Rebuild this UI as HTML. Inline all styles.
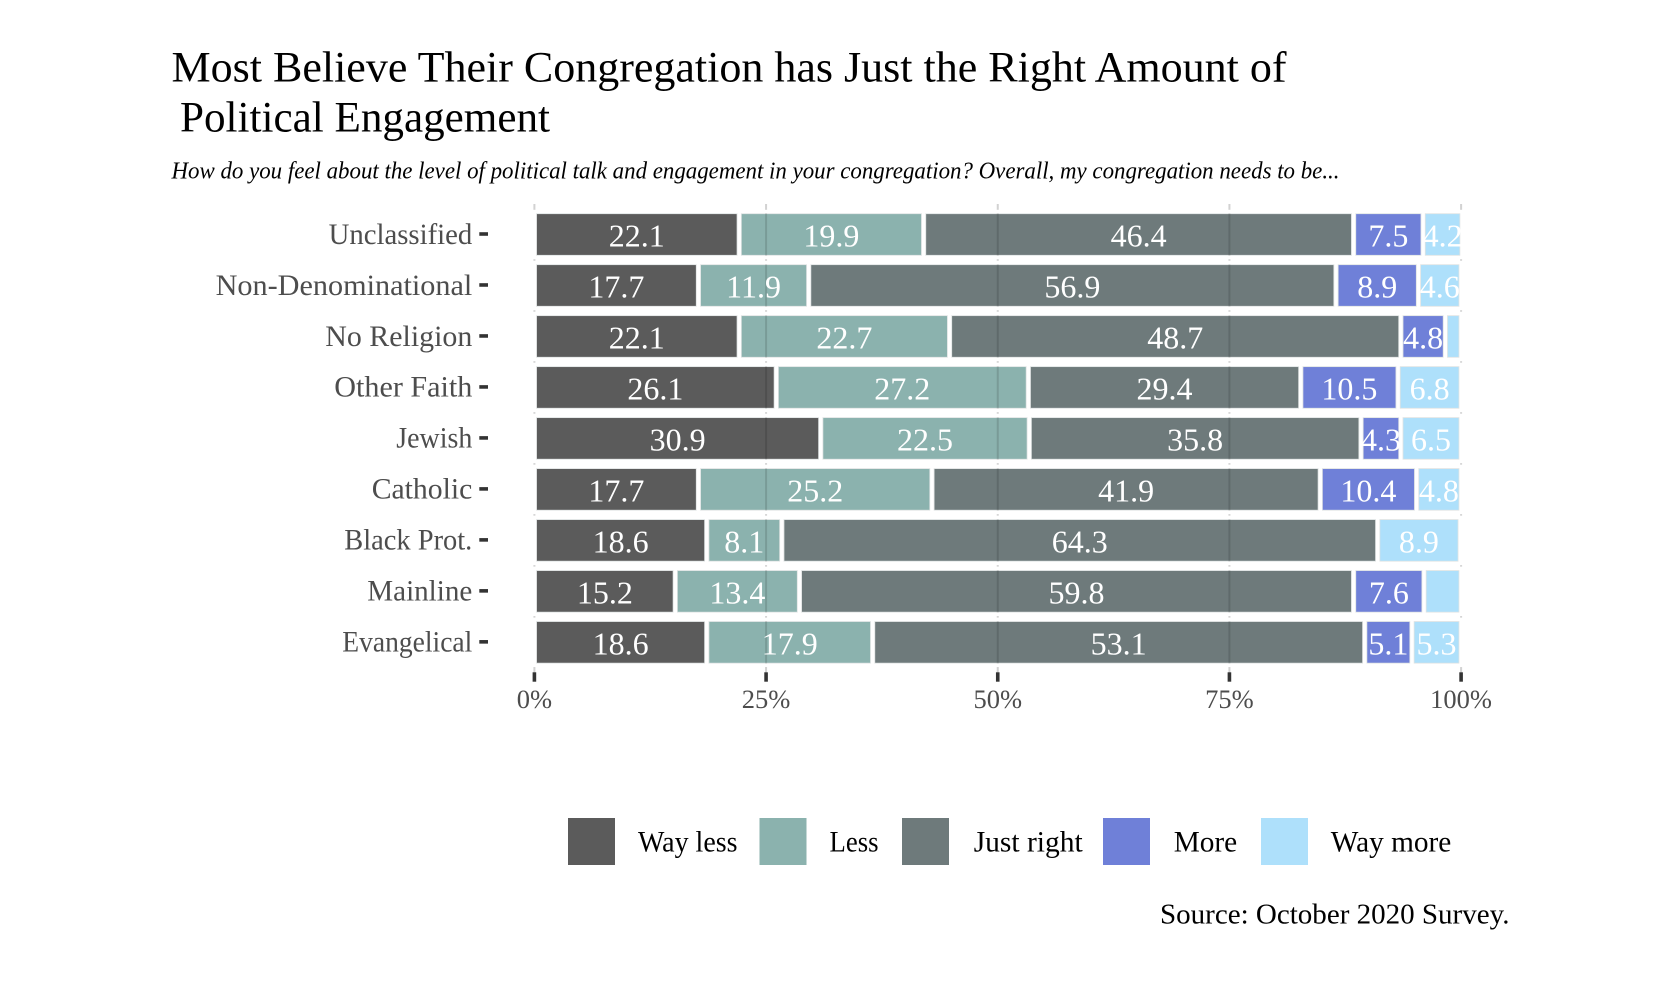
<!DOCTYPE html>
<html>
<head>
<meta charset="utf-8">
<title>Most Believe Their Congregation has Just the Right Amount of Political Engagement</title>
<style>
html,body{margin:0;padding:0;background:#fff;}
svg{display:block;font-family:"Liberation Serif",serif;filter:blur(0.35px);}
</style>
</head>
<body>
<svg id="chart" width="1670" height="992" viewBox="0 0 1670 992" xmlns="http://www.w3.org/2000/svg">
  <rect x="0" y="0" width="1670" height="992" fill="#ffffff"/>
  <text x="171.5" y="81.7" font-size="43.5" fill="#000" textLength="1115" lengthAdjust="spacingAndGlyphs">Most Believe Their Congregation has Just the Right Amount of</text>
  <text x="180" y="131.7" font-size="43.5" fill="#000" textLength="370" lengthAdjust="spacingAndGlyphs">Political Engagement</text>
  <text x="171.5" y="178.3" font-size="24.5" font-style="italic" fill="#000" textLength="1168" lengthAdjust="spacingAndGlyphs">How do you feel about the level of political talk and engagement in your congregation? Overall, my congregation needs to be...</text>
  <g id="plot"></g>
  <g>
    <g>
      <rect x="568" y="818" width="47" height="47" fill="#5b5b5b"/>
      <text x="638" y="851.7" font-size="30" fill="#000" textLength="99.5" lengthAdjust="spacingAndGlyphs">Way less</text>
    </g>
    <g>
      <rect x="759.5" y="818" width="47" height="47" fill="#8bb2ae"/>
      <text x="829.5" y="851.7" font-size="30" fill="#000" textLength="49" lengthAdjust="spacingAndGlyphs">Less</text>
    </g>
    <g>
      <rect x="902" y="818" width="47" height="47" fill="#6e7a7b"/>
      <text x="973.7" y="851.7" font-size="30" fill="#000" textLength="109" lengthAdjust="spacingAndGlyphs">Just right</text>
    </g>
    <g>
      <rect x="1103" y="818" width="47" height="47" fill="#6f80d8"/>
      <text x="1173.7" y="851.7" font-size="30" fill="#000" textLength="63.5" lengthAdjust="spacingAndGlyphs">More</text>
    </g>
    <g>
      <rect x="1261" y="818" width="47" height="47" fill="#aee0fb"/>
      <text x="1330.8" y="851.7" font-size="30" fill="#000" textLength="120.5" lengthAdjust="spacingAndGlyphs">Way more</text>
    </g>
  </g>
  <text x="1160" y="923.3" font-size="29" fill="#000" textLength="349.5" lengthAdjust="spacingAndGlyphs">Source: October 2020 Survey.</text>
</svg>
<script>
// ---- chart data (top row first) ----
const categories = ["Unclassified", "Non-Denominational", "No Religion", "Other Faith", "Jewish", "Catholic", "Black Prot.", "Mainline", "Evangelical"];
const wayLess   = [22.1, 17.7, 22.1, 26.1, 30.9, 17.7, 18.6, 15.2, 18.6];
const less      = [19.9, 11.9, 22.7, 27.2, 22.5, 25.2, 8.1, 13.4, 17.9];
const justRight = [46.4, 56.9, 48.7, 29.4, 35.8, 41.9, 64.3, 59.8, 53.1];
const more      = [7.5, 8.9, 4.8, 10.5, 4.3, 10.4, 0, 7.6, 5.1];
const wayMore   = [4.2, 4.6, 1.7, 6.8, 6.5, 4.8, 8.9, 4.0, 5.3];
const xTicks = [0, 25, 50, 75, 100];
const xTickLabels = ["0%", "25%", "50%", "75%", "100%"];
const seriesNames = ["way-less", "less", "just-right", "more", "way-more"];

const SVG_NS = "http://www.w3.org/2000/svg";
const plot = document.getElementById("plot");
const seriesValues = [wayLess, less, justRight, more, wayMore];
const seriesColors = ["#5b5b5b", "#8bb2ae", "#6e7a7b", "#6f80d8", "#aee0fb"];
const yLabelWidths = [143.7, 256.7, 147, 138, 76, 100.6, 128, 105, 130];

// axis functions
function xScale(v) { return 534.4 + v * 9.267; }
function yScale(i) { return 234.5 + i * 50.98; }
const BAR_HALF = 21.2;
const GAP_HALF = 1.75;
const HALO = 3.5;
const LABEL_MIN = 4.0;

function make(tag, attrs, parent) {
  const el = document.createElementNS(SVG_NS, tag);
  for (const k in attrs) el.setAttribute(k, attrs[k]);
  parent.appendChild(el);
  return el;
}

const panelTop = 204;
const panelBottom = yScale(categories.length - 1) + BAR_HALF + 9;

// light vertical gridlines behind the bars
xTicks.forEach(function (t) {
  const line = make("line", { x1: xScale(t), x2: xScale(t), y1: panelTop, y2: panelBottom, stroke: "#d2d2d2", "stroke-width": 2 }, plot);
  
  
});

// stacked bars
const labelQueue = [];
categories.forEach(function (cat, i) {
  let cum = 0;
  const cy = yScale(i);
  let rowTotal = 0;
  seriesValues.forEach(function (vals) { rowTotal += vals[i]; });
  const halo = make("rect", { x: xScale(0) - 2.5, y: cy - BAR_HALF - HALO, width: xScale(rowTotal) - xScale(0) + 5, height: 2 * (BAR_HALF + HALO), fill: "#ffffff" }, plot);
  
  
  seriesValues.forEach(function (vals, s) {
    const v = vals[i];
    const x0 = xScale(cum);
    const x1 = xScale(cum + v);
    cum += v;
    if (v <= 0) return;
    const bar = make("rect", { x: x0 + GAP_HALF + 0.4, y: cy - BAR_HALF + 0.4, width: Math.max(0, x1 - x0 - 2 * GAP_HALF - 0.8), height: 2 * BAR_HALF - 0.8, fill: seriesColors[s], stroke: "#dfe3e3", "stroke-width": 0.8 }, plot);
    
    
    if (v > LABEL_MIN) labelQueue.push({ x: (x0 + x1) / 2, y: cy + 12, text: v.toFixed(1) });
  });
  // gridline showing through the translucent bars
  xTicks.forEach(function (t) {
    if (t <= 0 || t >= 100) return;
    const shade = make("line", { x1: xScale(t), x2: xScale(t), y1: cy - BAR_HALF, y2: cy + BAR_HALF, stroke: "#000", "stroke-opacity": 0.13, "stroke-width": 2 }, plot);
    
    
  });
});

// value labels
labelQueue.forEach(function (d) {
  const t = make("text", { x: d.x, y: d.y, "text-anchor": "middle", "font-size": 32, fill: "#ffffff" }, plot);
  
  
  t.textContent = d.text;
});

// y axis
categories.forEach(function (cat, i) {
  const cy = yScale(i);
  const tick = make("line", { x1: 479.3, x2: 488, y1: cy - 0.5, y2: cy - 0.5, stroke: "#333333", "stroke-width": 3.6 }, plot);
  
  
  const lab = make("text", { x: 472.3, y: cy + 9.3, "text-anchor": "end", "font-size": 30, fill: "#4d4d4d", textLength: yLabelWidths[i], lengthAdjust: "spacingAndGlyphs" }, plot);
  
  
  lab.textContent = cat;
});

// x axis
xTicks.forEach(function (t, i) {
  const tick = make("line", { x1: xScale(t), x2: xScale(t), y1: 672.3, y2: 681.7, stroke: "#333333", "stroke-width": 3.6 }, plot);
  
  
  const lab = make("text", { x: xScale(t), y: 708, "text-anchor": "middle", "font-size": 26.5, fill: "#4d4d4d" }, plot);
  
  
  lab.textContent = xTickLabels[i];
});
</script>
</body>
</html>
